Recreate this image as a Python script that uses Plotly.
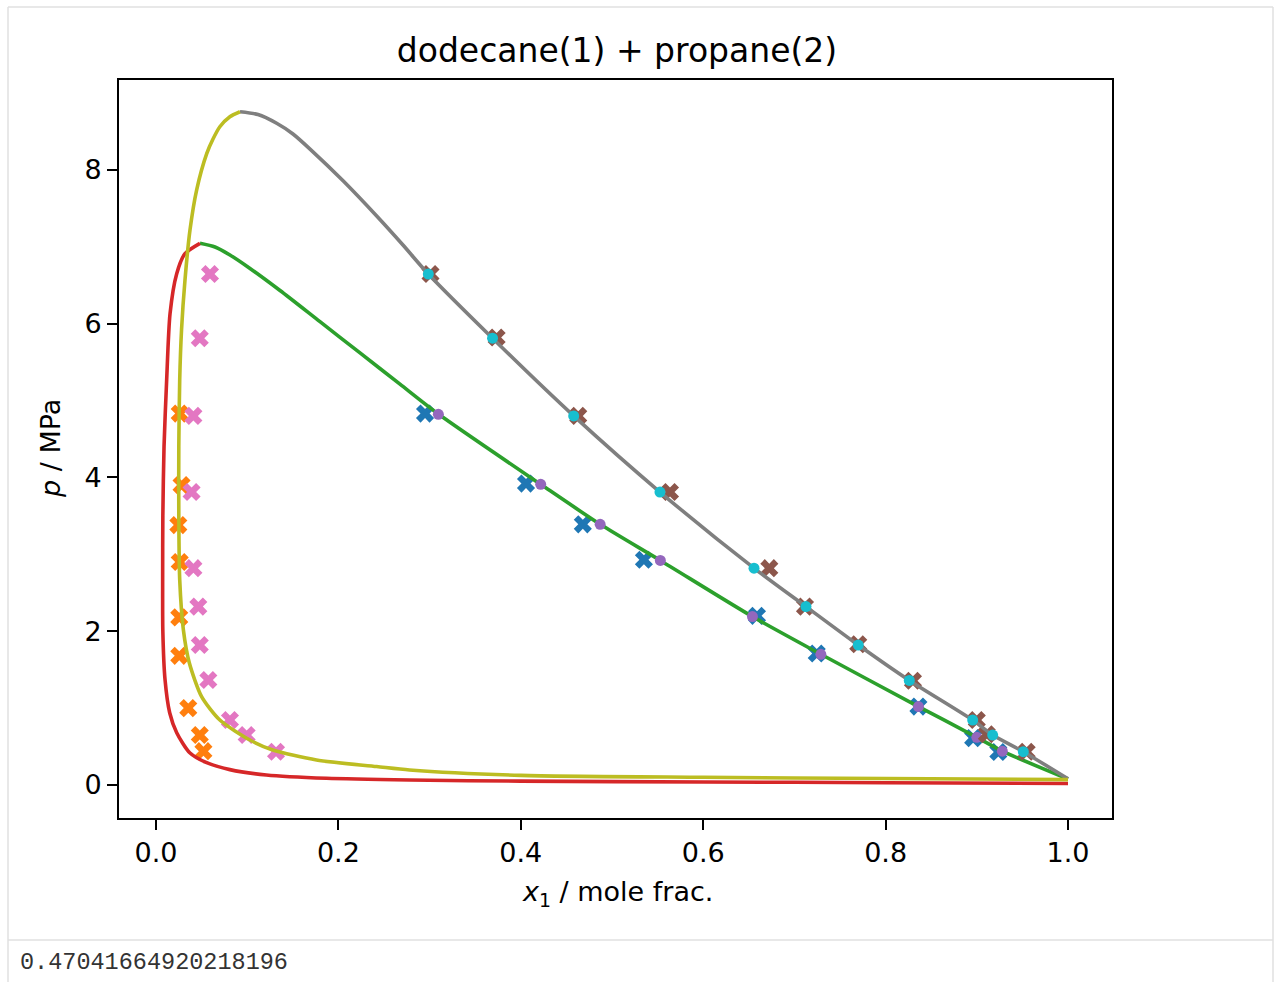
import plotly.graph_objects as go

# ---- measured phase-equilibrium data, dodecane(1) + propane(2) ----
# isotherm 1: experimental bubble (liquid) points
liq1_x = [0.295, 0.4057, 0.468, 0.535, 0.659, 0.7245, 0.836, 0.896, 0.9236]
liq1_p = [4.83, 3.92, 3.39, 2.93, 2.20, 1.71, 1.02, 0.61, 0.43]
# isotherm 1: experimental dew (vapour) points
vap1_x = [0.026, 0.028, 0.0245, 0.026, 0.0255, 0.0255, 0.0354, 0.048, 0.052]
vap1_p = [4.83, 3.90, 3.38, 2.90, 2.18, 1.68, 1.00, 0.65, 0.44]
# isotherm 1: model bubble points at the measured pressures
calc1_x = [0.3096, 0.4218, 0.487, 0.553, 0.654, 0.729, 0.836, 0.900, 0.928]
calc1_p = [4.82, 3.91, 3.39, 2.92, 2.19, 1.70, 1.02, 0.62, 0.44]

# isotherm 2: experimental bubble (liquid) points
liq2_x = [0.301, 0.3735, 0.463, 0.5636, 0.6725, 0.7116, 0.770, 0.830, 0.900, 0.911, 0.9547]
liq2_p = [6.645, 5.82, 4.80, 3.81, 2.82, 2.32, 1.83, 1.355, 0.845, 0.66, 0.433]
# isotherm 2: experimental dew (vapour) points
vap2_x = [0.0592, 0.048, 0.041, 0.039, 0.041, 0.0464, 0.048, 0.0574, 0.0811, 0.0994, 0.1316]
vap2_p = [6.645, 5.81, 4.80, 3.81, 2.82, 2.32, 1.82, 1.365, 0.845, 0.65, 0.433]
# isotherm 2: model bubble points at the measured pressures
calc2_x = [0.2986, 0.369, 0.458, 0.5526, 0.6557, 0.7127, 0.770, 0.826, 0.8955, 0.9174, 0.951]
calc2_p = [6.645, 5.81, 4.80, 3.81, 2.82, 2.32, 1.82, 1.36, 0.845, 0.65, 0.433]

# ---- model phase envelopes ----
bub1_x = [0.0482, 0.0647, 0.0811, 0.1031, 0.136, 0.1798, 0.2237, 0.2675, 0.3096, 0.4218,
          0.487, 0.553, 0.654, 0.729, 0.836, 0.900, 0.928, 1.0]
bub1_p = [7.044, 6.996, 6.892, 6.717, 6.43, 6.025, 5.619, 5.213, 4.824, 3.91,
          3.39, 2.92, 2.19, 1.70, 1.02, 0.62, 0.44, 0.078]
dew1_x = [1.0, 0.8, 0.6, 0.4, 0.278, 0.187, 0.121, 0.081, 0.0556, 0.037, 0.0227, 0.015,
          0.0099, 0.0075, 0.0073, 0.0075, 0.0088, 0.0117, 0.0154, 0.0227, 0.0318, 0.0482]
dew1_p = [0.02, 0.03, 0.04, 0.05, 0.065, 0.087, 0.13, 0.20, 0.29, 0.42, 0.68, 0.94,
          1.37, 2.0, 2.67, 3.5, 4.4, 5.27, 6.13, 6.65, 6.91, 7.044]
bub2_x = [0.0921, 0.1118, 0.1323, 0.1502, 0.1689, 0.2054, 0.242, 0.2708, 0.2986, 0.369,
          0.458, 0.5526, 0.6557, 0.7127, 0.770, 0.826, 0.8955, 0.9174, 0.951, 1.0]
bub2_p = [8.755, 8.719, 8.605, 8.466, 8.27, 7.854, 7.399, 7.022, 6.645, 5.81,
          4.80, 3.81, 2.82, 2.32, 1.82, 1.36, 0.845, 0.65, 0.433, 0.08]
dew2_x = [1.0, 0.8, 0.6, 0.4, 0.278, 0.242, 0.176, 0.128, 0.103, 0.070, 0.050, 0.0365,
          0.030, 0.026, 0.025, 0.025, 0.026, 0.028, 0.0318, 0.0373, 0.0446, 0.0556,
          0.0625, 0.070, 0.081, 0.0921]
dew2_p = [0.07, 0.085, 0.10, 0.125, 0.195, 0.24, 0.325, 0.455, 0.585, 0.845, 1.15, 1.59,
          2.02, 2.67, 3.5, 4.4, 5.27, 5.92, 6.57, 7.22, 7.74, 8.21,
          8.40, 8.56, 8.69, 8.755]

x_ticks = [0.0, 0.2, 0.4, 0.6, 0.8, 1.0]
p_ticks = [0, 2, 4, 6, 8]
printed_value = "0.47041664920218196"

C = dict(blue="#1f77b4", orange="#ff7f0e", green="#2ca02c", red="#d62728",
         purple="#9467bd", brown="#8c564b", pink="#e377c2", gray="#7f7f7f",
         olive="#bcbd22", cyan="#17becf")

W, H = 1275, 982
L, R, T, B = 119, 1112, 80, 818   # plot-area box in pixels


def px(xp):
    return (xp - L) / (R - L)


def py(yp):
    return (B - yp) / (B - T)


XMARK = 16
DOT = 11
LW = 3.6


def xs(x, p, col):
    return go.Scatter(x=x, y=p, mode="markers", showlegend=False,
                      marker=dict(symbol="x", size=XMARK, color=col, line=dict(width=0)))


def dots(x, p, col):
    return go.Scatter(x=x, y=p, mode="markers", showlegend=False,
                      marker=dict(symbol="circle", size=DOT, color=col, line=dict(width=0)))


def curve(x, p, col):
    return go.Scatter(x=x, y=p, mode="lines", showlegend=False,
                      line=dict(color=col, width=LW, shape="spline", smoothing=0.7))


fig = go.Figure()
fig.add_trace(xs(liq1_x, liq1_p, C["blue"]))
fig.add_trace(xs(vap1_x, vap1_p, C["orange"]))
fig.add_trace(curve(bub1_x, bub1_p, C["green"]))
fig.add_trace(curve(dew1_x, dew1_p, C["red"]))
fig.add_trace(dots(calc1_x, calc1_p, C["purple"]))
fig.add_trace(xs(liq2_x, liq2_p, C["brown"]))
fig.add_trace(xs(vap2_x, vap2_p, C["pink"]))
fig.add_trace(curve(bub2_x, bub2_p, C["gray"]))
fig.add_trace(curve(dew2_x, dew2_p, C["olive"]))
fig.add_trace(dots(calc2_x, calc2_p, C["cyan"]))

tickfont = dict(family="DejaVu Sans", size=27, color="black")
axis_common = dict(showgrid=False, zeroline=False, showline=True, linecolor="black",
                   linewidth=2, mirror=True, ticks="outside", ticklen=10, tickwidth=2,
                   tickcolor="black", tickfont=tickfont)

fig.update_layout(
    width=W, height=H,
    margin=dict(l=L, r=W - R, t=T, b=H - B, pad=0),
    paper_bgcolor="white", plot_bgcolor="white",
    title=dict(text="dodecane(1) + propane(2)", x=px(617), xref="paper", xanchor="center",
               y=1 - 50 / H, yref="container", yanchor="middle",
               font=dict(family="DejaVu Sans", size=33, color="black")),
    xaxis=dict(range=[-0.04057, 1.04825], tickvals=x_ticks,
               ticktext=[f"{v:.1f}" for v in x_ticks], **axis_common),
    yaxis=dict(range=[-0.429, 9.168], tickvals=p_ticks,
               ticktext=[str(v) for v in p_ticks], **axis_common),
)

# axis titles
fig.add_annotation(text="<i>x</i><sub>1</sub> / mole frac.", xref="paper", yref="paper",
                   x=px(617), y=py(893), xanchor="center", yanchor="middle", showarrow=False,
                   font=dict(family="DejaVu Sans", size=27, color="black"))
fig.add_annotation(text="<i>p</i> / MPa", xref="paper", yref="paper", textangle=-90,
                   x=px(50), y=py(449), xanchor="center", yanchor="middle", showarrow=False,
                   font=dict(family="DejaVu Sans", size=27, color="black"))

# notebook cell frame and printed output line
frame = "#e0e0e0"
for x0, y0, x1, y1 in [(8, 7, 1273, 7), (8, 7, 8, 982), (1273, 7, 1273, 982),
                       (8, 940, 1273, 940)]:
    fig.add_shape(type="line", xref="paper", yref="paper", x0=px(x0), y0=py(y0),
                  x1=px(x1), y1=py(y1), line=dict(color=frame, width=1.5))
fig.add_annotation(text=printed_value, xref="paper", yref="paper", x=px(18), y=py(962),
                   xanchor="left", yanchor="middle", showarrow=False,
                   font=dict(family="Liberation Mono", size=23.5, color="#333333"))

fig.write_html("out.html")
